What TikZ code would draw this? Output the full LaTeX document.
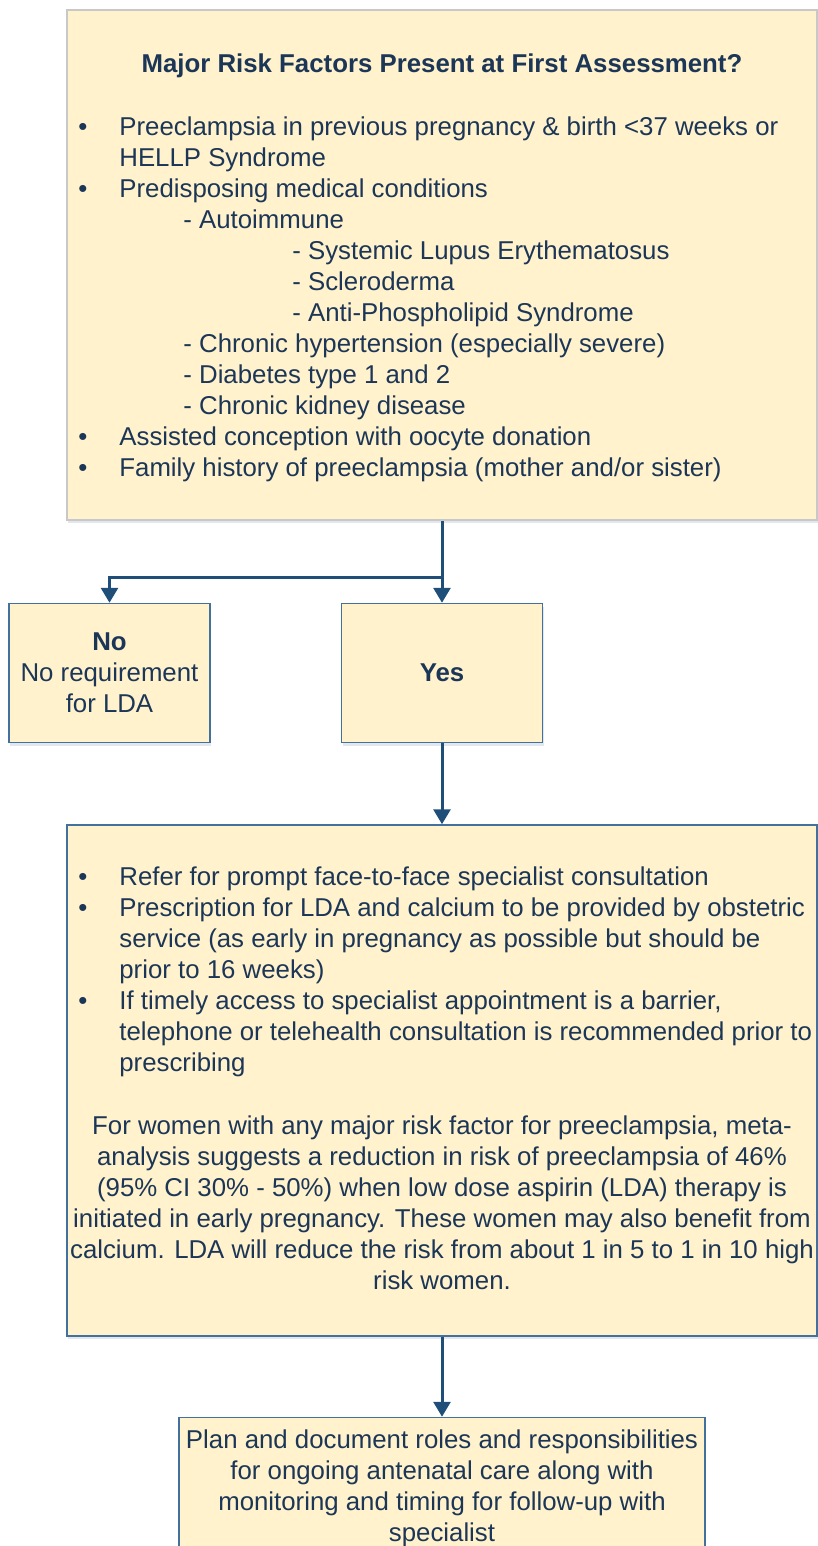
\documentclass[tikz,border=0pt]{standalone}
\usepackage{fontspec}
\setmainfont{Liberation Sans}
\usetikzlibrary{positioning,arrows.meta,shadows}

\definecolor{boxfill}{HTML}{FFF2CC}
\definecolor{boxline}{HTML}{41719C}
\definecolor{greyline}{HTML}{C8C8C8}
\definecolor{inkblue}{HTML}{1C3657}
\definecolor{flowblue}{HTML}{1F4E79}
\newcommand{\bul}{\makebox[20.5pt][l]{\textbullet}}
\newcommand{\ind}{\hspace*{20.5pt}}

\tikzset{
  box/.style={rectangle, draw=boxline, line width=0.75pt, fill=boxfill,
    drop shadow={shadow xshift=0.5pt, shadow yshift=-1.6pt, fill=flowblue!30, opacity=0.45},
    text=inkblue, font=\fontsize{12.9pt}{15.5pt}\selectfont, align=center, inner sep=0pt},
  txt/.style={inner sep=0pt, text=inkblue, font=\fontsize{12.9pt}{15.5pt}\selectfont},
  flow/.style={draw=flowblue, line width=1.5pt, -{Triangle[length=7.5pt,width=8.5pt]}},
  link/.style={draw=flowblue, line width=1.5pt},
}

\begin{document}
\begin{tikzpicture}[x=0.5pt, y=-0.5pt]
\useasboundingbox (0,0) rectangle (818,1546);

\node[box, draw=greyline, minimum width=375pt, minimum height=255pt] (risks) at (442,265) {};
\node[txt, font=\fontsize{12.9pt}{15.5pt}\selectfont\bfseries, anchor=base] (title) at (442,72.5)
  {Major Risk Factors Present at First Assessment?};
\node[txt, align=left, anchor=north west] (risklist) at (78,116.5) {
  \bul Preeclampsia in previous pregnancy \& birth <37 weeks or\\
  \ind HELLP Syndrome\\
  \bul Predisposing medical conditions\\
  \hspace*{52.5pt}- Autoimmune\\
  \hspace*{107pt}- Systemic Lupus Erythematosus\\
  \hspace*{107pt}- Scleroderma\\
  \hspace*{107pt}- Anti-Phospholipid Syndrome\\
  \hspace*{52.5pt}- Chronic hypertension (especially severe)\\
  \hspace*{52.5pt}- Diabetes type 1 and 2\\
  \hspace*{52.5pt}- Chronic kidney disease\\
  \bul Assisted conception with oocyte donation\\
  \bul Family history of preeclampsia (mother and/or sister)};

\node[box, font=\fontsize{12.9pt}{15.5pt}\selectfont\bfseries, minimum width=100.5pt, minimum height=69.5pt,
  below=41pt of risks] (yes) {Yes};
\node[box, minimum width=100.5pt, minimum height=69.5pt, left=65pt of yes] (no)
  {\textbf{No}\\No requirement\\for LDA};

\node[box, minimum width=375pt, minimum height=255.5pt, below=40.5pt of yes] (advice) {};
\node[txt, align=left, anchor=north west] (advicelist) at (78,866) {
  \bul Refer for prompt face-to-face specialist consultation\\
  \bul Prescription for LDA and calcium to be provided by obstetric\\
  \ind service (as early in pregnancy as possible but should be\\
  \ind prior to 16 weeks)\\
  \bul If timely access to specialist appointment is a barrier,\\
  \ind telephone or telehealth consultation is recommended prior to\\
  \ind prescribing};
\node[txt, align=center, anchor=north] (evidence) at (442,1115) {
  For women with any major risk factor for preeclampsia, meta-\\
  analysis suggests a reduction in risk of preeclampsia of 46\%\\
  (95\% CI 30\% - 50\%) when low dose aspirin (LDA) therapy is\\
  initiated in early pregnancy. These women may also benefit from\\
  calcium. LDA will reduce the risk from about 1 in 5 to 1 in 10 high\\
  risk women.};

\node[box, minimum width=263pt, minimum height=71pt, below=40pt of advice] (plan)
  {Plan and document roles and responsibilities\\
   for ongoing antenatal care along with\\
   monitoring and timing for follow-up with\\
   specialist};

\coordinate (split) at (442,577);
\draw[link] (risks.south) -- (split);
\draw[flow] (split) -- (yes.north);
\draw[flow] (split) -| (no.north);
\draw[flow] (yes.south) -- (advice.north);
\draw[flow] (advice.south) -- (plan.north);
\end{tikzpicture}
\end{document}
